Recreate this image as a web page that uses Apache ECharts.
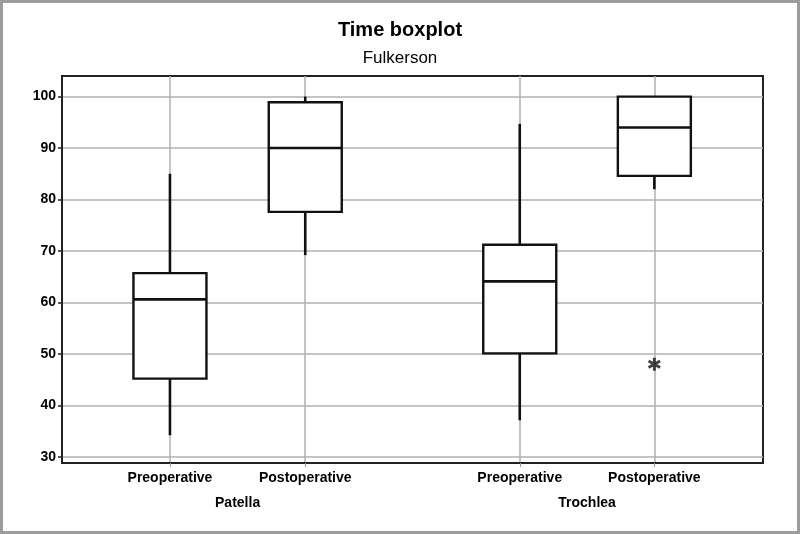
<!DOCTYPE html>
<html>
<head>
<meta charset="utf-8">
<title>Time boxplot</title>
<script src="https://cdn.jsdelivr.net/npm/echarts@6/dist/echarts.min.js"></script>
<style>
  html, body { margin: 0; padding: 0; background: #fff; }
  #chart { width: 800px; height: 534px; }
</style>
</head>
<body>
<div id="chart"></div>
<script>
// data
var groups = ['Patella', 'Trochlea'];
var categories = ['Preoperative', 'Postoperative', 'Preoperative', 'Postoperative'];
var mins    = [34.2, 69.2, 37.1, 82.0];
var q1s     = [45.2, 77.6, 50.1, 84.6];
var medians = [60.6, 90.0, 64.1, 94.0];
var q3s     = [65.7, 98.9, 71.2, 100];
var maxs    = [85.0, 100, 94.7, 100];
var outliers = [[3, 48.0]];   // [box index, value]
var yTicks = [30, 40, 50, 60, 70, 80, 90, 100];

// layout: where each box sits along a 0..100 x scale
var xPos = [15.4, 34.7, 65.3, 84.5];
var groupPos = [(xPos[0] + xPos[1]) / 2, (xPos[2] + xPos[3]) / 2];
var BOX_W = 73;
var FONT = '"Liberation Sans", Arial, sans-serif';

function lookup(list, names, v) {
    for (var i = 0; i < list.length; i++) {
        if (Math.abs(list[i] - v) < 1e-6) return names[i];
    }
    return '';
}

var boxData = [];
for (var i = 0; i < categories.length; i++) {
    boxData.push([xPos[i], mins[i], q1s[i], medians[i], q3s[i], maxs[i]]);
}
var outlierData = outliers.map(function (o) { return [xPos[o[0]], o[1]]; });

// asterisk made of three bars
var starPath = 'path://M-1.3,-6L1.3,-6L1.3,6L-1.3,6Z' +
    'M4.546,-4.126L5.846,-1.874L-4.546,4.126L-5.846,1.874Z' +
    'M-5.846,-1.874L-4.546,-4.126L5.846,1.874L4.546,4.126Z';

var chart = echarts.init(document.getElementById('chart'));
chart.setOption({
    backgroundColor: '#fff',
    animation: false,
    title: [
        {
            text: 'Time boxplot',
            left: 'center',
            top: 15,
            textStyle: {fontFamily: FONT, fontSize: 20, fontWeight: 'bold', color: '#000'}
        },
        {
            text: 'Fulkerson',
            left: 'center',
            top: 45,
            textStyle: {fontFamily: FONT, fontSize: 17, fontWeight: 'normal', color: '#000'}
        }
    ],
    graphic: [{
        type: 'rect',
        shape: {x: 1.5, y: 1.5, width: 797, height: 531},
        style: {fill: 'none', stroke: '#9c9c9c', lineWidth: 3},
        silent: true
    }],
    grid: {
        left: 62,
        right: 37,
        top: 76,
        bottom: 71,
        show: true,
        borderColor: '#222',
        borderWidth: 2
    },
    xAxis: [
        {
            type: 'value',
            min: 0,
            max: 100,
            axisLine: {show: true, lineStyle: {color: '#222', width: 2}},
            axisTick: {show: true, customValues: xPos, length: 4, lineStyle: {color: '#999'}},
            axisLabel: {
                customValues: xPos,
                margin: 8,
                fontFamily: FONT,
                fontSize: 14,
                fontWeight: 'bold',
                color: '#000',
                formatter: function (v) { return lookup(xPos, categories, v); }
            },
            splitLine: {show: true, lineStyle: {color: '#b0b0b0', width: 1.5}}
        },
        {
            type: 'value',
            min: 0,
            max: 100,
            position: 'bottom',
            offset: 25,
            axisLine: {show: false},
            axisTick: {show: false},
            splitLine: {show: false},
            axisLabel: {
                customValues: groupPos,
                margin: 8,
                fontFamily: FONT,
                fontSize: 14,
                fontWeight: 'bold',
                color: '#000',
                formatter: function (v) { return lookup(groupPos, groups, v); }
            }
        }
    ],
    yAxis: {
        type: 'value',
        min: 28.8,
        max: 104,
        axisLine: {show: true, lineStyle: {color: '#222', width: 2}},
        axisTick: {show: true, customValues: yTicks, length: 4, lineStyle: {color: '#222', width: 1.5}},
        axisLabel: {
            customValues: yTicks,
            margin: 6,
            fontFamily: FONT,
            fontSize: 14,
            fontWeight: 'bold',
            color: '#000'
        },
        splitLine: {show: true, lineStyle: {color: '#b0b0b0', width: 1.5}}
    },
    series: [
        {
            name: 'box',
            type: 'custom',
            xAxisIndex: 0,
            encode: {x: 0, y: [1, 2, 3, 4, 5]},
            data: boxData,
            z: 5,
            renderItem: function (params, api) {
                var x = api.value(0);
                var lo = api.coord([x, api.value(1)]);
                var q1 = api.coord([x, api.value(2)]);
                var md = api.coord([x, api.value(3)]);
                var q3 = api.coord([x, api.value(4)]);
                var hi = api.coord([x, api.value(5)]);
                var half = BOX_W / 2;
                var line = {stroke: '#111', lineWidth: 2.6};
                return {
                    type: 'group',
                    children: [
                        {type: 'line', shape: {x1: lo[0], y1: lo[1], x2: q1[0], y2: q1[1]}, style: line},
                        {type: 'line', shape: {x1: q3[0], y1: q3[1], x2: hi[0], y2: hi[1]}, style: line},
                        {
                            type: 'rect',
                            shape: {x: q3[0] - half, y: q3[1], width: BOX_W, height: q1[1] - q3[1]},
                            style: {fill: '#fff', stroke: '#111', lineWidth: 2.4}
                        },
                        {type: 'line', shape: {x1: md[0] - half, y1: md[1], x2: md[0] + half, y2: md[1]}, style: line}
                    ]
                };
            }
        },
        {
            name: 'outlier',
            type: 'scatter',
            data: outlierData,
            symbol: starPath,
            symbolSize: 13,
            itemStyle: {color: '#111'},
            z: 6
        }
    ]
});
</script>
</body>
</html>
